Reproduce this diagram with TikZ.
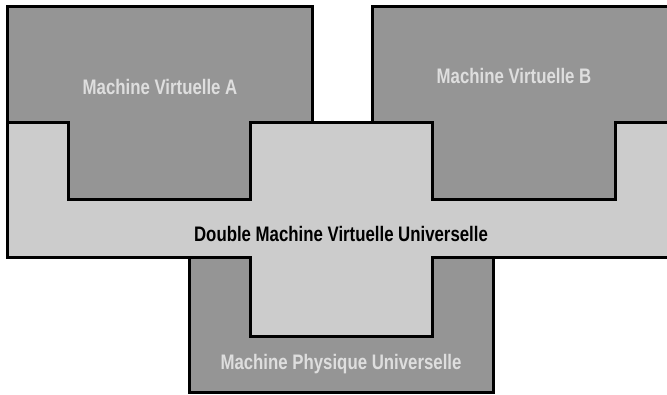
\documentclass[tikz,border=0pt]{standalone}
\usepackage{fontspec}
\newfontfamily\lblfont{Liberation Sans}[FakeStretch=0.8]
\definecolor{darkfill}{HTML}{959595}
\definecolor{bandfill}{HTML}{CCCCCC}
\definecolor{lighttext}{HTML}{DEDEDE}
\begin{document}
\begin{tikzpicture}[x=1pt,y=-1pt,
  block/.style={draw=black,line width=3pt,line join=miter},
  vm/.style={block,fill=darkfill},
  band/.style={block,fill=bandfill},
  lbl/.style={font=\lblfont\bfseries\fontsize{21}{25}\selectfont,inner sep=0pt,anchor=base},
  lightlbl/.style={lbl,text=lighttext},
  darklbl/.style={lbl,text=black}]
\useasboundingbox (0,0) rectangle (667,395);
\clip (0,0) rectangle (667,395);
% Machine Virtuelle A
\draw[vm] (7,7) -- (312,7) -- (312,123) -- (250,123) -- (250,200) -- (68,200) -- (68,123) -- (7,123) -- cycle;
% Machine Virtuelle B
\draw[vm] (372,7) -- (680,7) -- (680,123) -- (615,123) -- (615,200) -- (432,200) -- (432,123) -- (372,123) -- cycle;
% Machine Physique Universelle
\draw[vm] (189,258) rectangle (493,393);
% Double Machine Virtuelle Universelle
\draw[band] (7,123) -- (68,123) -- (68,200) -- (250,200) -- (250,123) -- (432,123) -- (432,200) -- (615,200) -- (615,123) -- (680,123) -- (680,258) -- (432,258) -- (432,337) -- (250,337) -- (250,258) -- (7,258) -- cycle;
% labels
\node[lightlbl] (la) at (160,95) {Machine Virtuelle A};
\node[lightlbl] (lb) at (514,84) {Machine Virtuelle B};
\node[darklbl] (ld) at (341,242) {Double Machine Virtuelle Universelle};
\node[lightlbl] (lp) at (341,370) {Machine Physique Universelle};
\end{tikzpicture}
\end{document}
